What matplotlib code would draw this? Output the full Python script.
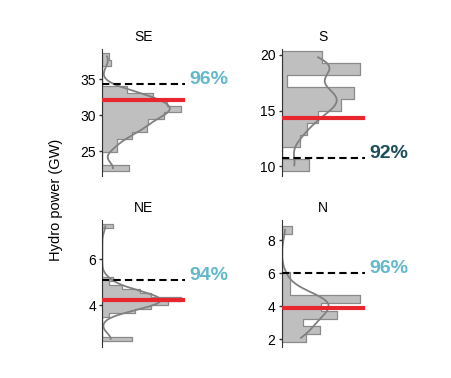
import matplotlib
matplotlib.use('Agg')  # headless
import matplotlib.pyplot as plt
import matplotlib.transforms as mtransforms
import numpy as np
import seaborn as sns

plt.rcParams['font.family'] = ['Liberation Sans', 'DejaVu Sans']

# --- Data (GW) ---
regions = ['SE', 'S', 'NE', 'N']

# histogram range, number of bins and bar lengths (bottom bin first)
se_range, se_nbins = (22.16, 38.64), 18
se_counts = [27, 0, 0, 15, 15, 30, 45, 46, 62, 79, 65, 51, 25, 0, 0, 0, 9, 7]

s_range, s_nbins = (9.54, 20.33), 10
s_counts = [27, 0, 18, 25, 36, 58, 71, 5, 77, 39]

ne_range, ne_nbins = (2.45, 7.52), 29
ne_counts = [30, 0, 0, 0, 0, 0, 7, 33, 48, 65, 78, 48, 37, 20, 7, 11,
             0, 0, 0, 0, 0, 0, 0, 0, 0, 0, 0, 0, 11]

n_range, n_nbins = (1.86, 8.88), 15
n_counts = [24, 38, 21, 55, 39, 79, 8, 8, 8, 0, 0, 0, 0, 0, 10]

# red line (central value), dashed threshold and its label
mean_vals = [32.05, 14.33, 4.23, 3.91]
thresh_vals = [34.3, 10.76, 5.11, 6.02]
pct_labels = ['96%', '92%', '94%', '96%']

y_ticks = [[25, 30, 35], [10, 15, 20], [4, 6], [2, 4, 6, 8]]

# --- Style / layout ---
y_lims = [(21.56, 39.2), (9.14, 20.52), (2.20, 7.71), (1.56, 9.24)]
pct_colors = ['#63b8cc', '#1d4f5b', '#63b8cc', '#63b8cc']
bw = [0.45, 0.5, 0.45, 0.6]

hists = [(se_range, se_nbins, se_counts), (s_range, s_nbins, s_counts),
         (ne_range, ne_nbins, ne_counts), (n_range, n_nbins, n_counts)]

fig, axes = plt.subplots(2, 2, figsize=(4.52, 3.78), dpi=100)
plt.subplots_adjust(left=0.226, right=0.807, bottom=0.083, top=0.87,
                    wspace=1.16, hspace=0.35)

for i, ax in enumerate(axes.flat):
    (lo, hi), nb, counts = hists[i]
    edges = np.linspace(lo, hi, nb + 1)
    centers = (edges[:-1] + edges[1:]) / 2
    sns.histplot(y=centers, weights=counts, bins=nb, binrange=(lo, hi),
                 kde=True, element='step', color='#808080',
                 edgecolor='#8a8a8a', alpha=0.5, linewidth=0.9,
                 line_kws={'linewidth': 1.3},
                 kde_kws={'bw_adjust': bw[i]}, ax=ax)

    ax.axhline(mean_vals[i], color='#e8262e', lw=3, zorder=5)
    ax.axhline(thresh_vals[i], color='black', ls='--', lw=1.5,
               dashes=(3.5, 2), zorder=5)
    trans = mtransforms.blended_transform_factory(ax.transAxes, ax.transData)
    ax.text(1.05, thresh_vals[i], pct_labels[i], transform=trans,
            color=pct_colors[i], fontsize=14, fontweight='bold',
            ha='left', va='baseline')

    ax.set_xlim(0, max(counts) * 1.055)
    ax.set_ylim(*y_lims[i])
    ax.set_yticks(y_ticks[i])
    ax.set_xticks([])
    ax.set_xlabel('')
    ax.set_ylabel('')
    for side in ['top', 'right', 'bottom']:
        ax.spines[side].set_visible(False)
    ax.spines['left'].set_color('#333333')
    ax.tick_params(axis='y', labelsize=10, length=2.5, width=1, pad=2,
                   color='#333333')
    ax.set_title(regions[i], fontsize=10, pad=6)

fig.text(0.125, 0.47, 'Hydro power (GW)', rotation=90,
         ha='center', va='center', fontsize=10.5)

plt.savefig('out.png', dpi=100)
